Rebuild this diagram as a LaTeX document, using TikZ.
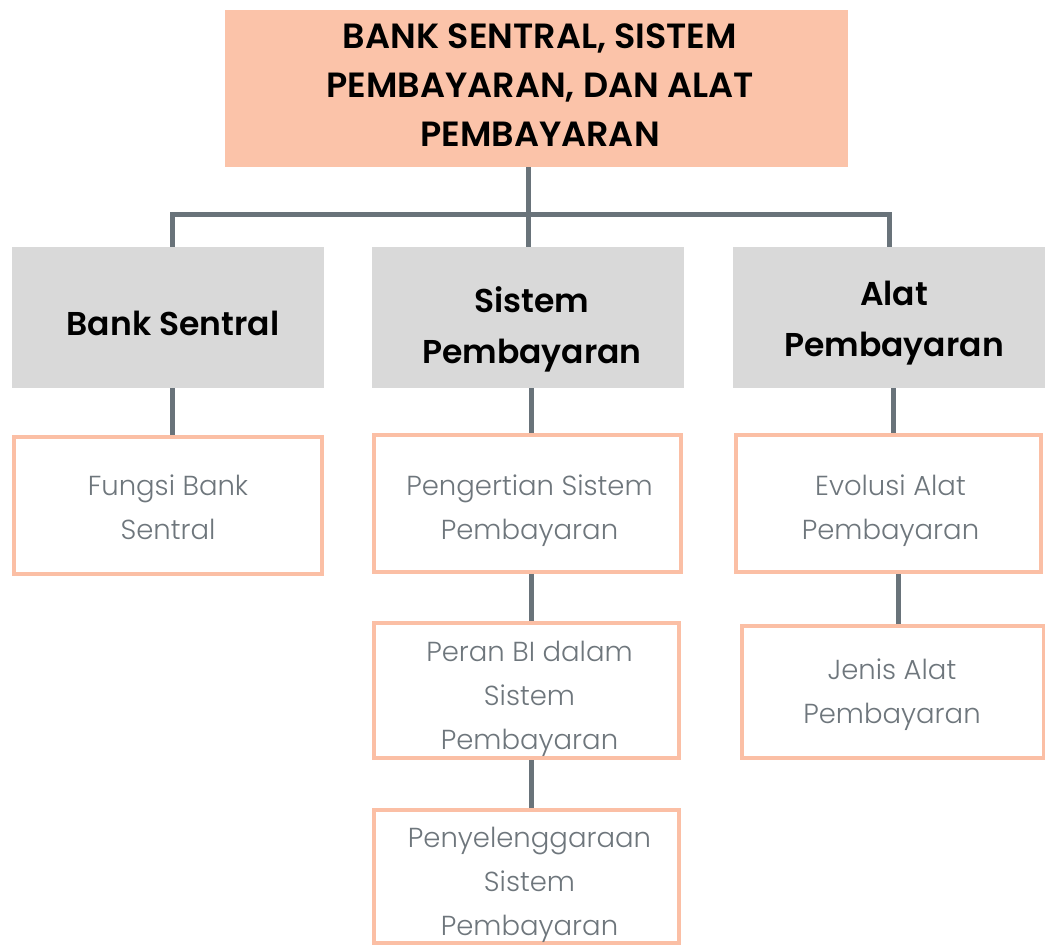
\documentclass[tikz,border=0pt]{standalone}
\usepackage{fontspec}
\setmainfont{Poppins}
\newfontfamily\headfont{Poppins SemiBold}
\newfontfamily\lightfont{Poppins Light}
\definecolor{salmon}{HTML}{FBC3A9}
\definecolor{salmonline}{HTML}{FBBFA5}
\definecolor{boxgray}{HTML}{D9D9D9}
\definecolor{linegray}{HTML}{69737A}
\definecolor{textgray}{HTML}{6E767C}
\tikzset{
  titlebox/.style={rectangle, fill=salmon, inner sep=0pt},
  headbox/.style={rectangle, fill=boxgray, inner sep=0pt,
    minimum width=312, minimum height=141},
  headtext/.style={inner sep=0pt, align=center,
    font=\headfont\fontsize{33}{51}\selectfont, text=black},
  itembox/.style={rectangle, draw=salmonline, line width=4pt, fill=white, inner sep=0pt},
  itemtext/.style={inner sep=0pt, align=center,
    font=\lightfont\fontsize{27.5}{44}\selectfont, text=textgray},
  conn/.style={draw=linegray, line width=5pt}
}
\begin{document}
\begin{tikzpicture}[x=1pt,y=-1pt]
\useasboundingbox (0,0) rectangle (1045,947);
% title
\node[titlebox, minimum width=623, minimum height=157] (top) at (536.5,88.5) {};
\node[font=\headfont\fontsize{35}{49}\selectfont, align=center, inner sep=0pt] (toptext) at ([xshift=3.5pt,yshift=3pt]top.center) {BANK SENTRAL, SISTEM\\PEMBAYARAN, DAN ALAT\\PEMBAYARAN};
% headings
\node[headbox] (bs) at (168,317.5) {};
\node[headbox] (sp) at (528,317.5) {};
\node[headbox] (ap) at (889,317.5) {};
\node[headtext] (bs-t) at ([xshift=5pt,yshift=-6pt]bs.center) {Bank Sentral};
\node[headtext] (sp-t) at ([xshift=4pt,yshift=-12pt]sp.center) {Sistem\\Pembayaran};
\node[headtext] (ap-t) at ([xshift=5pt,yshift=-6pt]ap.center) {Alat\\Pembayaran};
% items
\node[itembox, minimum width=308, minimum height=137] (fbs) at (168,505.5) {};
\node[itembox, minimum width=307, minimum height=137] (pen) at (527.5,503.5) {};
\node[itembox, minimum width=305, minimum height=137] (evo) at (888.5,503.5) {};
\node[itembox, minimum width=302, minimum height=132] (jen) at (893,692) {};
\node[itembox, minimum width=305, minimum height=135] (per) at (526.5,690.5) {};
\node[itembox, minimum width=305, minimum height=133] (pny) at (526.5,876.5) {};
\node[itemtext] (fbs-t) at ([yshift=-2pt]fbs.center) {Fungsi Bank\\Sentral};
\node[itemtext] (pen-t) at ([xshift=2pt,yshift=-7pt]pen.center) {Pengertian Sistem\\Pembayaran};
\node[itemtext] (evo-t) at ([xshift=2pt,yshift=-7pt]evo.center) {Evolusi Alat\\Pembayaran};
\node[itemtext] (jen-t) at ([xshift=-1pt,yshift=-3pt]jen.center) {Jenis Alat\\Pembayaran};
\node[itemtext] (per-t) at ([xshift=3pt,yshift=-8pt]per.center) {Peran BI dalam\\Sistem\\Pembayaran};
\node[itemtext] (pny-t) at ([xshift=3pt,yshift=-8pt]pny.center) {Penyelenggaraan\\Sistem\\Pembayaran};
% connectors
\coordinate (hub) at (528,215);
\path[conn] ([xshift=-8.5pt]top.south) -- (sp.north);
\path[conn] ([xshift=4pt]bs.north) |- (hub) -| (ap.north);
\path[conn] ([xshift=4pt]bs.south) -- ([xshift=4pt]fbs.north);
\path[conn] ([xshift=3pt]sp.south) -- ([xshift=3.5pt]pen.north);
\path[conn] ([xshift=4pt]ap.south) -- ([xshift=4.5pt]evo.north);
\path[conn] ([xshift=4pt]pen.south) -- ([xshift=5pt]per.north);
\path[conn] ([xshift=5pt]per.south) -- ([xshift=5pt]pny.north);
\path[conn] ([xshift=10pt]evo.south) -- ([xshift=5.5pt]jen.north);
\end{tikzpicture}
\end{document}
